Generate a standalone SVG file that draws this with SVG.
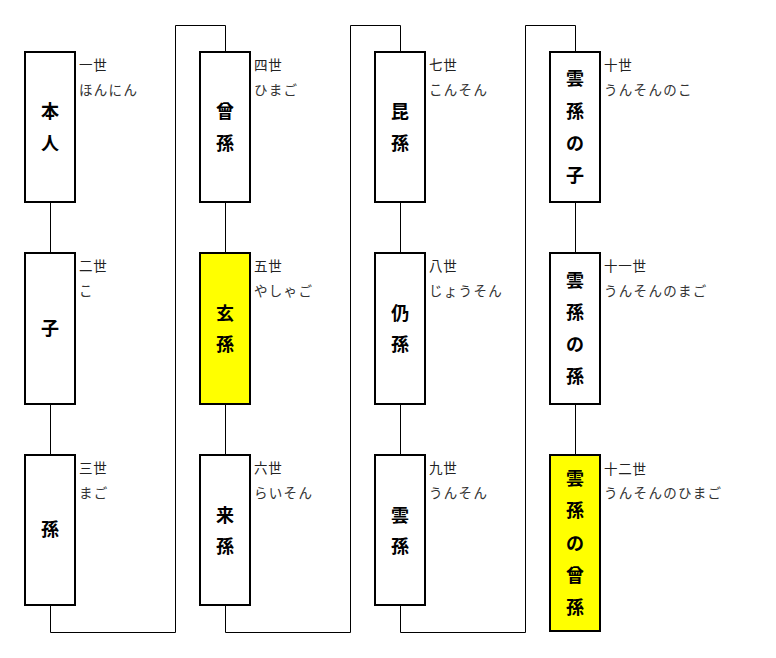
<svg xmlns="http://www.w3.org/2000/svg" width="776" height="658" viewBox="0 0 776 658">
<style>
.box{fill:#fff;stroke:#000;stroke-width:2}
.hl{fill:#ffff00}
.name{font-family:"Noto Sans CJK JP","Noto Sans CJK SC",sans-serif;font-size:18px;font-weight:bold;fill:#000;text-anchor:middle;dominant-baseline:central}
.gen{font-family:"Noto Sans CJK JP","Noto Sans CJK SC",sans-serif;font-size:13.5px;fill:#222;dominant-baseline:central;letter-spacing:0.8px}
.read{font-family:"Noto Sans CJK JP","Noto Sans CJK SC",sans-serif;font-size:13.5px;fill:#333;dominant-baseline:central;letter-spacing:1.3px}
.conn{fill:none;stroke:#000;stroke-width:1}
</style>
<rect width="776" height="658" fill="#fff"/>
<g id="connectors" class="conn">
<path d="M50.5 202V253M50.5 404V455"/>
<path d="M225.5 202V253M225.5 404V455"/>
<path d="M400.5 202V253M400.5 404V455"/>
<path d="M575.5 202V253M575.5 404V455"/>
<path d="M50.5 605V632.5H175.5V25.5H225.5V52"/>
<path d="M225.5 605V632.5H350.5V25.5H400.5V52"/>
<path d="M400.5 605V632.5H525.5V25.5H575.5V52"/>
</g>
<g id="n1"><rect class="box" x="25" y="52" width="50" height="150"/><text class="name" x="50" y="110">本</text><text class="name" x="50" y="141.5">人</text><text class="gen" x="79" y="64">一世</text><text class="read" x="79" y="89">ほんにん</text></g>
<g id="n2"><rect class="box" x="25" y="253" width="50" height="151"/><text class="name" x="50" y="327">子</text><text class="gen" x="79" y="265">二世</text><text class="read" x="79" y="290">こ</text></g>
<g id="n3"><rect class="box" x="25" y="455" width="50" height="150"/><text class="name" x="50" y="528">孫</text><text class="gen" x="79" y="467">三世</text><text class="read" x="79" y="492">まご</text></g>
<g id="n4"><rect class="box" x="200" y="52" width="50" height="150"/><text class="name" x="225" y="110">曾</text><text class="name" x="225" y="141.5">孫</text><text class="gen" x="254" y="64">四世</text><text class="read" x="254" y="89">ひまご</text></g>
<g id="n5"><rect class="box hl" x="200" y="253" width="50" height="151"/><text class="name" x="225" y="312">玄</text><text class="name" x="225" y="342.5">孫</text><text class="gen" x="254" y="265">五世</text><text class="read" x="254" y="290">やしゃご</text></g>
<g id="n6"><rect class="box" x="200" y="455" width="50" height="150"/><text class="name" x="225" y="514">来</text><text class="name" x="225" y="545">孫</text><text class="gen" x="254" y="467">六世</text><text class="read" x="254" y="492">らいそん</text></g>
<g id="n7"><rect class="box" x="375" y="52" width="50" height="150"/><text class="name" x="400" y="110">昆</text><text class="name" x="400" y="141.5">孫</text><text class="gen" x="429" y="64">七世</text><text class="read" x="429" y="89">こんそん</text></g>
<g id="n8"><rect class="box" x="375" y="253" width="50" height="151"/><text class="name" x="400" y="312">仍</text><text class="name" x="400" y="342.5">孫</text><text class="gen" x="429" y="265">八世</text><text class="read" x="429" y="290">じょうそん</text></g>
<g id="n9"><rect class="box" x="375" y="455" width="50" height="150"/><text class="name" x="400" y="514">雲</text><text class="name" x="400" y="545">孫</text><text class="gen" x="429" y="467">九世</text><text class="read" x="429" y="492">うんそん</text></g>
<g id="n10"><rect class="box" x="550" y="52" width="50" height="150"/><text class="name" x="575" y="77">雲</text><text class="name" x="575" y="109.5">孫</text><text class="name" x="575" y="141.5">の</text><text class="name" x="575" y="173.5">子</text><text class="gen" x="604" y="64">十世</text><text class="read" x="604" y="89">うんそんのこ</text></g>
<g id="n11"><rect class="box" x="550" y="253" width="50" height="151"/><text class="name" x="575" y="279">雲</text><text class="name" x="575" y="311">孫</text><text class="name" x="575" y="343">の</text><text class="name" x="575" y="375">孫</text><text class="gen" x="604" y="265">十一世</text><text class="read" x="604" y="290">うんそんのまご</text></g>
<g id="n12"><rect class="box hl" x="550" y="455" width="50" height="176"/><text class="name" x="575" y="477">雲</text><text class="name" x="575" y="509">孫</text><text class="name" x="575" y="541.5">の</text><text class="name" x="575" y="574">曾</text><text class="name" x="575" y="606">孫</text><text class="gen" x="604" y="468">十二世</text><text class="read" x="604" y="492">うんそんのひまご</text></g>
</svg>
